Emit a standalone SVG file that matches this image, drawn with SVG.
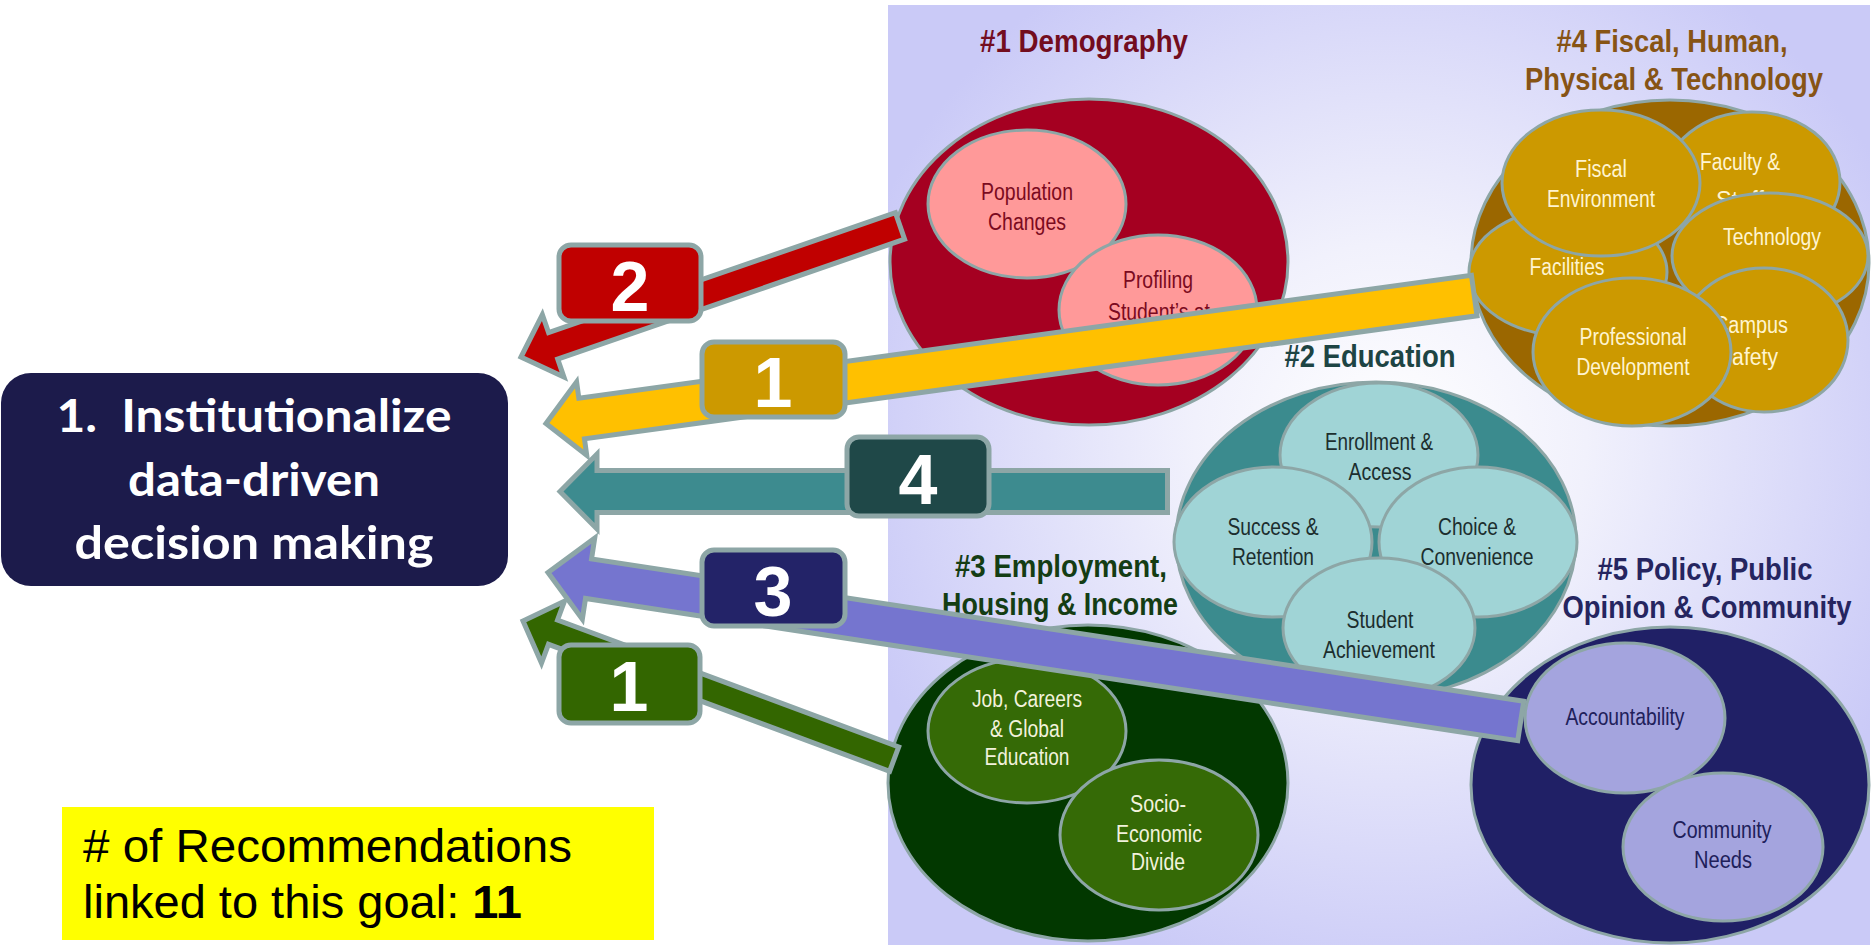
<svg xmlns="http://www.w3.org/2000/svg" width="1874" height="945" viewBox="0 0 1874 945">
  <defs>
    <radialGradient id="panelGrad" gradientUnits="userSpaceOnUse" cx="1390" cy="440" r="560">
      <stop offset="0" stop-color="#ffffff"/>
      <stop offset="0.35" stop-color="#f1f1fc"/>
      <stop offset="1" stop-color="#cacaf7"/>
    </radialGradient>
  </defs>
  <style>
    .outer { stroke: #8da6a6; stroke-width: 3; }
    .sub { stroke: #8da6a6; stroke-width: 3; }
    .title { font-family: "Liberation Sans Narrow", "Liberation Sans", Arial, sans-serif; font-weight: bold; font-size: 31px; text-anchor: middle; }
    .lbl { font-family: "Liberation Sans Narrow", "Liberation Sans", Arial, sans-serif; font-size: 23px; text-anchor: middle; }
    .arrow { stroke: #8da6a6; stroke-width: 5; stroke-linejoin: miter; }
    .tag { stroke: #8da6a6; stroke-width: 5; }
    .num { font-family: "Liberation Sans", Arial, sans-serif; font-weight: bold; font-size: 70px; fill: #ffffff; text-anchor: middle; }
    .goal { font-family: Lato, "Open Sans", sans-serif; font-weight: bold; font-size: 46px; fill: #ffffff; text-anchor: middle; }
    .count { font-family: "Liberation Sans", Arial, sans-serif; font-size: 47px; fill: #000000; }
  </style>

  <!-- backdrop panel behind the five clusters -->
  <rect id="panel" x="888" y="5" width="982" height="940" fill="url(#panelGrad)"/>

  <!-- #1 Demography -->
  <g id="demography">
    <text class="title" x="1084" y="52" fill="#730d1f" textLength="208" lengthAdjust="spacingAndGlyphs">#1 Demography</text>
    <ellipse class="outer" cx="1089" cy="262" rx="199" ry="163" fill="#a50021"/>
    <g id="population-changes">
      <ellipse class="sub" cx="1027" cy="204" rx="99" ry="74" fill="#ff9999"/>
      <text class="lbl" fill="#7b0a20" x="1027" y="200" textLength="92" lengthAdjust="spacingAndGlyphs">Population</text>
      <text class="lbl" fill="#7b0a20" x="1027" y="230" textLength="78" lengthAdjust="spacingAndGlyphs">Changes</text>
    </g>
    <g id="profiling-students">
      <ellipse class="sub" cx="1158" cy="310" rx="99" ry="75" fill="#ff9999"/>
      <text class="lbl" fill="#7b0a20" x="1158" y="288" textLength="70" lengthAdjust="spacingAndGlyphs">Profiling</text>
      <text class="lbl" fill="#7b0a20" x="1159" y="320" textLength="102" lengthAdjust="spacingAndGlyphs">Student’s at</text>
    </g>
  </g>

  <!-- #4 Fiscal, Human, Physical & Technology -->
  <g id="resources">
    <text class="title" x="1672" y="52" fill="#875415" textLength="231" lengthAdjust="spacingAndGlyphs">#4 Fiscal, Human,</text>
    <text class="title" x="1674" y="90" fill="#875415" textLength="298" lengthAdjust="spacingAndGlyphs">Physical &amp; Technology</text>
    <ellipse class="outer" cx="1670" cy="263" rx="199" ry="163" fill="#9b6700"/>
    <g id="faculty-staff">
      <ellipse class="sub" cx="1752" cy="182" rx="88" ry="70" fill="#cc9900"/>
      <text class="lbl" fill="#fff4d0" x="1740" y="170" textLength="80" lengthAdjust="spacingAndGlyphs">Faculty &amp;</text>
      <text class="lbl" fill="#fff4d0" x="1740" y="208" textLength="48" lengthAdjust="spacingAndGlyphs">Staff</text>
    </g>
    <g id="facilities">
      <ellipse class="sub" cx="1568" cy="272" rx="99" ry="64" fill="#cc9900"/>
      <text class="lbl" fill="#fff4d0" x="1567" y="275" textLength="75" lengthAdjust="spacingAndGlyphs">Facilities</text>
    </g>
    <g id="fiscal-environment">
      <ellipse class="sub" cx="1601" cy="183" rx="99" ry="73" fill="#cc9900"/>
      <text class="lbl" fill="#fff4d0" x="1601" y="177" textLength="52" lengthAdjust="spacingAndGlyphs">Fiscal</text>
      <text class="lbl" fill="#fff4d0" x="1601" y="207" textLength="108" lengthAdjust="spacingAndGlyphs">Environment</text>
    </g>
    <g id="technology">
      <ellipse class="sub" cx="1770" cy="256" rx="98" ry="63" fill="#cc9900"/>
      <text class="lbl" fill="#fff4d0" x="1772" y="245" textLength="98" lengthAdjust="spacingAndGlyphs">Technology</text>
    </g>
    <g id="campus-safety">
      <ellipse class="sub" cx="1764" cy="340" rx="84" ry="72" fill="#cc9900"/>
      <text class="lbl" fill="#fff4d0" x="1751" y="333" textLength="74" lengthAdjust="spacingAndGlyphs">Campus</text>
      <text class="lbl" fill="#fff4d0" x="1748" y="365" textLength="60" lengthAdjust="spacingAndGlyphs">Safety</text>
    </g>
    <g id="professional-development">
      <ellipse class="sub" cx="1632" cy="352" rx="99" ry="74" fill="#cc9900"/>
      <text class="lbl" fill="#fff4d0" x="1633" y="345" textLength="107" lengthAdjust="spacingAndGlyphs">Professional</text>
      <text class="lbl" fill="#fff4d0" x="1633" y="375" textLength="113" lengthAdjust="spacingAndGlyphs">Development</text>
    </g>
  </g>

  <!-- #2 Education -->
  <g id="education">
    <text class="title" x="1370" y="367" fill="#1d4444" textLength="171" lengthAdjust="spacingAndGlyphs">#2 Education</text>
    <ellipse class="outer" cx="1376" cy="540" rx="200" ry="158" fill="#3b8b8e"/>
    <g id="enrollment-access">
      <ellipse class="sub" cx="1379" cy="455" rx="99" ry="72" fill="#a0d4d6"/>
      <text class="lbl" fill="#1c2e2e" x="1379" y="450" textLength="108" lengthAdjust="spacingAndGlyphs">Enrollment &amp;</text>
      <text class="lbl" fill="#1c2e2e" x="1380" y="480" textLength="63" lengthAdjust="spacingAndGlyphs">Access</text>
    </g>
    <g id="success-retention">
      <ellipse class="sub" cx="1273" cy="542" rx="99" ry="75" fill="#a0d4d6"/>
      <text class="lbl" fill="#1c2e2e" x="1273" y="535" textLength="91" lengthAdjust="spacingAndGlyphs">Success &amp;</text>
      <text class="lbl" fill="#1c2e2e" x="1273" y="565" textLength="82" lengthAdjust="spacingAndGlyphs">Retention</text>
    </g>
    <g id="choice-convenience">
      <ellipse class="sub" cx="1478" cy="542" rx="99" ry="75" fill="#a0d4d6"/>
      <text class="lbl" fill="#1c2e2e" x="1477" y="535" textLength="78" lengthAdjust="spacingAndGlyphs">Choice &amp;</text>
      <text class="lbl" fill="#1c2e2e" x="1477" y="565" textLength="113" lengthAdjust="spacingAndGlyphs">Convenience</text>
    </g>
    <g id="student-achievement">
      <ellipse class="sub" cx="1379" cy="628" rx="96" ry="70" fill="#a0d4d6"/>
      <text class="lbl" fill="#1c2e2e" x="1380" y="628" textLength="67" lengthAdjust="spacingAndGlyphs">Student</text>
      <text class="lbl" fill="#1c2e2e" x="1379" y="658" textLength="112" lengthAdjust="spacingAndGlyphs">Achievement</text>
    </g>
  </g>

  <!-- #3 Employment, Housing & Income -->
  <g id="employment">
    <text class="title" x="1061" y="577" fill="#143d14" textLength="212" lengthAdjust="spacingAndGlyphs">#3 Employment,</text>
    <text class="title" x="1060" y="615" fill="#143d14" textLength="236" lengthAdjust="spacingAndGlyphs">Housing &amp; Income</text>
    <ellipse class="outer" cx="1088" cy="783" rx="200" ry="158" fill="#023800"/>
    <g id="jobs-careers">
      <ellipse class="sub" cx="1027" cy="731" rx="99" ry="72" fill="#356a06"/>
      <text class="lbl" fill="#f2f2dc" x="1027" y="707" textLength="110" lengthAdjust="spacingAndGlyphs">Job, Careers</text>
      <text class="lbl" fill="#f2f2dc" x="1027" y="737" textLength="74" lengthAdjust="spacingAndGlyphs">&amp; Global</text>
      <text class="lbl" fill="#f2f2dc" x="1027" y="765" textLength="85" lengthAdjust="spacingAndGlyphs">Education</text>
    </g>
    <g id="socio-economic">
      <ellipse class="sub" cx="1159" cy="835" rx="99" ry="75" fill="#356a06"/>
      <text class="lbl" fill="#f2f2dc" x="1158" y="812" textLength="56" lengthAdjust="spacingAndGlyphs">Socio-</text>
      <text class="lbl" fill="#f2f2dc" x="1159" y="842" textLength="86" lengthAdjust="spacingAndGlyphs">Economic</text>
      <text class="lbl" fill="#f2f2dc" x="1158" y="870" textLength="54" lengthAdjust="spacingAndGlyphs">Divide</text>
    </g>
  </g>

  <!-- #5 Policy, Public Opinion & Community -->
  <g id="policy">
    <text class="title" x="1705" y="580" fill="#252560" textLength="215" lengthAdjust="spacingAndGlyphs">#5 Policy, Public</text>
    <text class="title" x="1707" y="618" fill="#252560" textLength="289" lengthAdjust="spacingAndGlyphs">Opinion &amp; Community</text>
    <ellipse class="outer" cx="1670" cy="785" rx="199" ry="158" fill="#202066"/>
    <g id="accountability">
      <ellipse class="sub" cx="1625" cy="718" rx="100" ry="75" fill="#a4a4de"/>
      <text class="lbl" fill="#20205a" x="1625" y="725" textLength="119" lengthAdjust="spacingAndGlyphs">Accountability</text>
    </g>
    <g id="community-needs">
      <ellipse class="sub" cx="1723" cy="847" rx="100" ry="74" fill="#a4a4de"/>
      <text class="lbl" fill="#20205a" x="1722" y="838" textLength="99" lengthAdjust="spacingAndGlyphs">Community</text>
      <text class="lbl" fill="#20205a" x="1723" y="868" textLength="58" lengthAdjust="spacingAndGlyphs">Needs</text>
    </g>
  </g>

  <!-- block arrows from each cluster to the goal, with recommendation counts -->
  <g id="connectors">
    <polygon class="arrow" fill="#c00000" transform="translate(521,357) rotate(-19.07)" points="0,0 34,-33 34,-14 401,-14 401,14 34,14 34,33"/>
    <polygon class="arrow" fill="#ffc000" transform="translate(546,423.5) rotate(-7.85)" points="0,0 36,-37 36,-20.5 937,-20.5 937,20.5 36,20.5 36,37"/>
    <polygon class="arrow" fill="#3d8b8f" transform="translate(560,491.5)" points="0,0 37,-37.5 37,-21 607.5,-21 607.5,21 37,21 37,37.5"/>
    <polygon class="arrow" fill="#7575cf" transform="translate(548,572.5) rotate(8.68)" points="0,0 41,-41 41,-20 984,-20 984,20 41,20 41,41"/>
    <polygon class="arrow" fill="#336600" transform="translate(523,621) rotate(20.4)" points="0,0 32,-33 32,-13 396,-13 396,13 32,13 32,33"/>

    <g id="count-demography">
      <rect class="tag" x="559" y="245" width="142" height="76" rx="12" fill="#c00000"/>
      <text class="num" x="630" y="311">2</text>
    </g>
    <g id="count-resources">
      <rect class="tag" x="702" y="342" width="143" height="75" rx="12" fill="#cc9900"/>
      <text class="num" x="773" y="407">1</text>
    </g>
    <g id="count-education">
      <rect class="tag" x="847" y="437" width="142" height="79" rx="12" fill="#1f4848"/>
      <text class="num" x="918" y="504">4</text>
    </g>
    <g id="count-policy">
      <rect class="tag" x="702" y="550" width="143" height="76" rx="12" fill="#232368"/>
      <text class="num" x="773" y="616">3</text>
    </g>
    <g id="count-employment">
      <rect class="tag" x="559" y="645" width="141" height="78" rx="12" fill="#336600"/>
      <text class="num" x="629" y="711">1</text>
    </g>
  </g>

  <!-- goal -->
  <g id="goal">
    <rect x="1" y="373" width="507" height="213" rx="30" fill="#1c1b4b"/>
    <text class="goal" x="254" y="432" textLength="395" lengthAdjust="spacingAndGlyphs">1.&#160; Institutionalize</text>
    <text class="goal" x="254" y="496" textLength="252" lengthAdjust="spacingAndGlyphs">data-driven</text>
    <text class="goal" x="254" y="559" textLength="359" lengthAdjust="spacingAndGlyphs">decision making</text>
  </g>

  <!-- recommendation tally -->
  <g id="tally">
    <rect x="62" y="807" width="592" height="133" fill="#ffff00"/>
    <text class="count" x="83" y="862" textLength="489" lengthAdjust="spacingAndGlyphs"># of Recommendations</text>
    <text class="count" x="83" y="918">linked to this goal: <tspan font-weight="bold">11</tspan></text>
  </g>
</svg>
